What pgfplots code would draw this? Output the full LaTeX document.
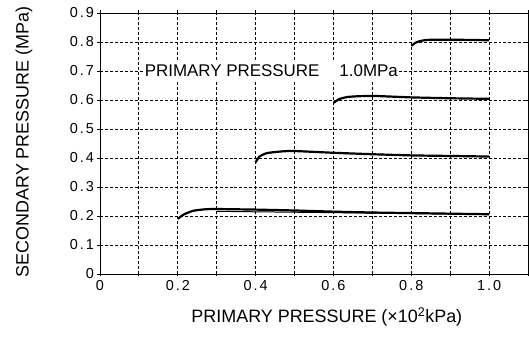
\documentclass[border=0pt]{standalone}
\usepackage{pgfplots}
\pgfplotsset{compat=1.18}
\usepackage{fontspec}
\setmainfont{Liberation Sans}
\newfontfamily\tickfont[LetterSpace=14]{Liberation Sans}
\begin{document}
\begin{tikzpicture}
\begin{axis}[
  name=ax,
  scale only axis, width=428bp, height=261bp,
  xmin=0, xmax=1.1, ymin=0, ymax=0.9,
  xtick={0,0.1,0.2,0.3,0.4,0.5,0.6,0.7,0.8,0.9,1.0,1.1},
  xticklabels={0,,0.2,,0.4,,0.6,,0.8,,1.0,},
  ytick={0,0.1,0.2,0.3,0.4,0.5,0.6,0.7,0.8,0.9},
  yticklabels={0,0.1,0.2,0.3,0.4,0.5,0.6,0.7,0.8,0.9},
  grid=major,
  grid style={densely dashed, black, line width=0.9pt},
  axis line style={black, line width=0.9pt},
  tick style={black, line width=0.9pt},
  major tick length=5bp, tick align=center,
  /pgf/number format/assume math mode=true,
  tick label style={font=\tickfont\fontsize{14.5}{14.5}\selectfont},
  xlabel={PRIMARY PRESSURE (×10\textsuperscript{2}kPa)},
  ylabel={SECONDARY PRESSURE (MPa)},
  xlabel style={font=\fontsize{18}{18}\selectfont, at={(axis description cs:0.53,0)}, anchor=north, yshift=-30bp},
  ylabel style={font=\fontsize{18}{18}\selectfont, at={(axis description cs:-0.1776,0.506)}, anchor=center},
]
\node[fill=white, inner xsep=1bp, inner ysep=3bp, anchor=west, font=\fontsize{17}{17}\selectfont] at (axis cs:0.112,0.7) {PRIMARY PRESSURE\hspace{20bp}1.0MPa};
\addplot[black, line width=2.2bp, smooth, tension=0.4] coordinates {
  (0.2,0.19) (0.215,0.205) (0.24,0.218) (0.27,0.223) (0.3,0.224) (0.4,0.222) (0.5,0.219) (0.6,0.215) (0.7,0.212) (0.8,0.21) (0.9,0.208) (1.0,0.206)};
\addplot[black, line width=1pt] coordinates {
  (0.3,0.216) (0.5,0.213) (0.7,0.21) (0.9,0.207) (1.0,0.205)};
\addplot[black, line width=2.2bp, smooth, tension=0.4] coordinates {
  (0.4,0.385) (0.41,0.405) (0.43,0.417) (0.47,0.423) (0.5,0.424) (0.6,0.418) (0.7,0.413) (0.8,0.409) (0.9,0.407) (1.0,0.405)};
\addplot[black, line width=2.2bp, smooth, tension=0.4] coordinates {
  (0.6,0.59) (0.615,0.603) (0.64,0.611) (0.7,0.614) (0.8,0.609) (0.9,0.606) (1.0,0.604)};
\addplot[black, line width=2.2bp, smooth, tension=0.4] coordinates {
  (0.8,0.787) (0.815,0.8) (0.84,0.807) (0.9,0.808) (1.0,0.806)};
\end{axis}
\pgfresetboundingbox
\path[use as bounding box] ([xshift=-100bp,yshift=-63bp]ax.south west) rectangle ([xshift=1bp,yshift=13bp]ax.north east);
\end{tikzpicture}
\end{document}
